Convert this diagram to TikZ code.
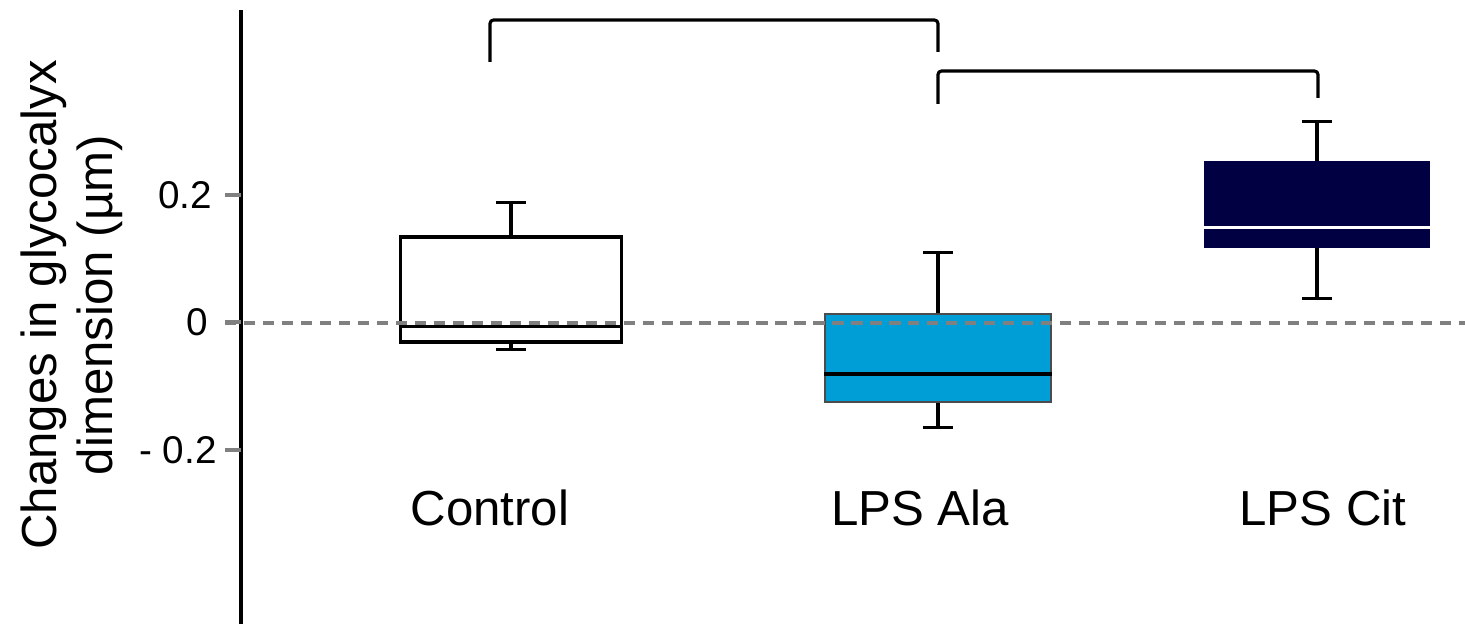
\documentclass[tikz,border=0pt]{standalone}
\usepackage{fontspec}
\setmainfont{Liberation Sans}
\usepackage{tikz}
\usetikzlibrary{calc}
\usetikzlibrary{positioning}

\definecolor{alablue}{RGB}{0,158,214}
\definecolor{citnavy}{RGB}{0,0,66}

\begin{document}
\begin{tikzpicture}[
  boxplot/.style={draw, line width=0.9pt, inner sep=0pt},
  whisker/.style={line width=0.9pt},
  zeroline/.style={gray, line width=1.3pt, dash pattern=on 3.2pt off 2.2pt},
  brace/.style={line width=0.9pt, line join=round, rounded corners=1pt},
  grouplabel/.style={font=\fontsize{14}{16}\selectfont},
  ticklabel/.style={font=\fontsize{11}{13}\selectfont}]

\useasboundingbox (0,0) rectangle (14.65,6.24);

% axis and ticks
\path[draw, line width=0.9pt] (2.41, 0) -- (2.41, 6.14);
\foreach \y/\t/\x [count=\i] in {4.29/0.2/1.85, 3.02/0/1.97, 1.74/- 0.2/1.78} {
   \path[draw, gray, line width=0.9pt] (2.25, \y) -- (2.41, \y);
   \node[ticklabel] at(\x, \y) (tick\i) {\t};
}

\node[grouplabel, rotate=90, align=center] at(0.72, 3.19) (ylabel) {Changes in glycocalyx\\dimension (µm)};

% boxes
\node[boxplot, fill=white, minimum width=2.21cm, minimum height=1.05cm] at (5.11, 3.345) (ctrl) {};
\node[boxplot, draw=black!70, line width=0.5pt, fill=alablue, minimum width=2.26cm, minimum height=0.88cm] at (9.38, 2.66) (ala) {};
\node[boxplot, draw=citnavy, fill=citnavy, minimum width=2.23cm, minimum height=0.83cm] at (13.17, 4.195) (cit) {};

% medians
\draw[whisker] ($(ctrl.south west)+(0,0.17)$) -- ($(ctrl.south east)+(0,0.17)$);
\draw[whisker, line width=1.2pt] ($(ala.south west)+(0,0.29)$) -- ($(ala.south east)+(0,0.29)$);
\draw[white, line width=0.8pt] ($(cit.south west)+(0,0.20)$) -- ($(cit.south east)+(0,0.20)$);

% whiskers
\foreach \b/\up/\dn in {ctrl/0.33/0.06, ala/0.61/0.25, cit/0.40/0.51} {
   \draw[whisker] (\b.north) -- ++(0,\up) coordinate (\b-hi);
   \draw[whisker] ([xshift=-0.15cm]\b-hi) -- ([xshift=0.15cm]\b-hi);
   \draw[whisker] (\b.south) -- ++(0,-\dn) coordinate (\b-lo);
   \draw[whisker] ([xshift=-0.15cm]\b-lo) -- ([xshift=0.15cm]\b-lo);
}

\draw[zeroline] (2.25, 3.01) -- (14.65, 3.01);

% significance brackets
\coordinate (brA) at (4.90, 5.62);
\coordinate (brB) at (9.38, 5.72);
\coordinate (brC) at (9.38, 5.20);
\coordinate (brD) at (13.18, 5.26);
\draw[brace] (brA) -- ++(0,0.42) -| (brB);
\draw[brace] (brC) -- ++(0,0.33) -| (brD);

\node[grouplabel] at(4.90, 1.16) (lblctrl) {Control};
\node[grouplabel] at(9.20, 1.16) (lblala) {LPS Ala};
\node[grouplabel] at(13.23, 1.16) (lblcit) {LPS Cit};
\end{tikzpicture}
\end{document}
